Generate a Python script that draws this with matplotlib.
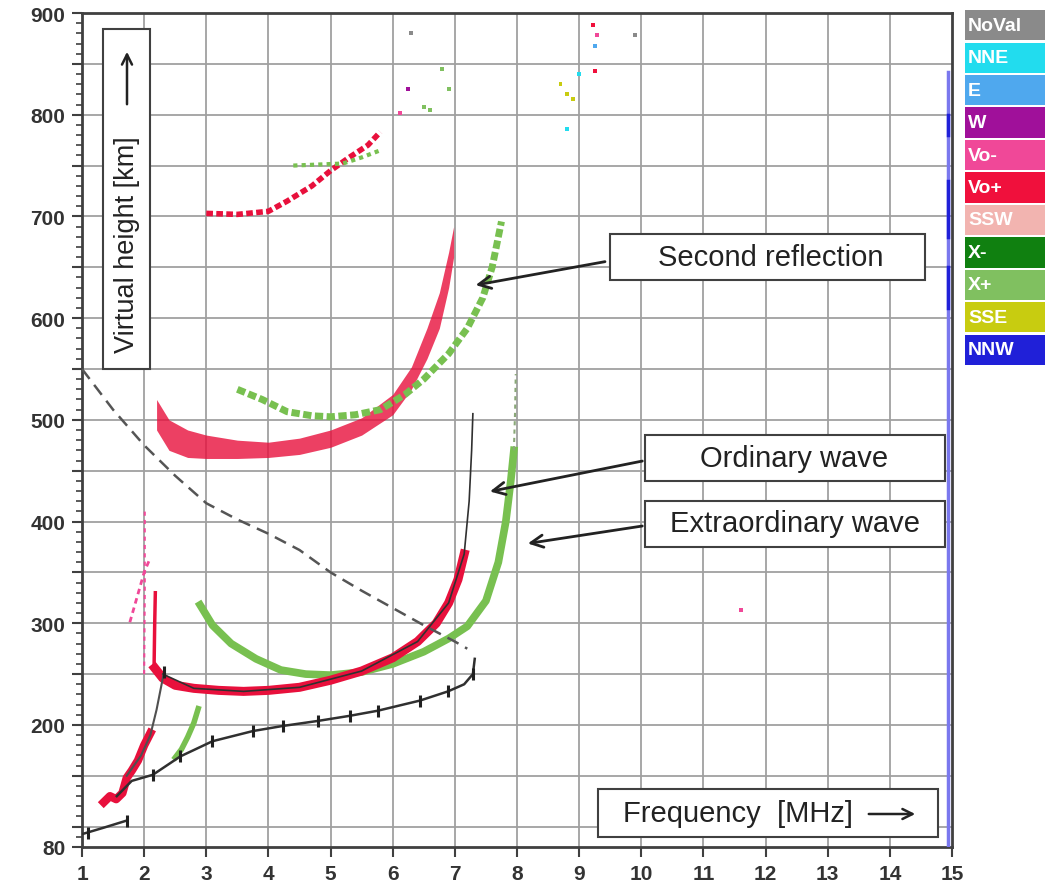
import numpy as np
import matplotlib.pyplot as plt
from matplotlib.patches import Rectangle

plt.rcParams['font.family'] = ['Liberation Sans', 'DejaVu Sans']

# ---- echo traces: frequency [MHz], virtual height [km] ----
# first hop, ordinary (Vo+)
o1_f = [2.17, 2.3, 2.5, 2.8, 3.2, 3.6, 4.0, 4.5, 5.0, 5.5, 6.0, 6.4, 6.7, 6.9, 7.05, 7.15]
o1_h = [256, 246, 239, 236, 234, 233, 234, 237, 244, 253, 266, 282, 300, 320, 343, 368]
# thin black fitted O trace up to foF2
ot_f = [2.3, 2.8, 3.6, 4.5, 5.5, 6.4, 6.9, 7.15, 7.23, 7.27, 7.29]
ot_h = [250, 236, 233, 237, 253, 282, 320, 368, 420, 470, 506]
# first hop, extraordinary (X+)
x1_f = [2.9, 3.1, 3.4, 3.8, 4.2, 4.6, 5.0, 5.5, 6.0, 6.5, 6.9, 7.2, 7.5, 7.7, 7.82, 7.9, 7.95]
x1_h = [318, 298, 280, 265, 254, 250, 249, 252, 260, 272, 285, 297, 322, 360, 400, 440, 470]
x1t_f = [7.95, 7.97, 7.98]
x1t_h = [470, 510, 545]
# spike at 2.17 MHz
sp_f = [2.16, 2.17, 2.18]
sp_h = [258, 300, 330]
# low (E / Es) red echoes
e_f = [1.35, 1.45, 1.55, 1.65, 1.72, 1.8, 1.9, 2.0, 2.1]
e_h = [124, 130, 127, 133, 148, 155, 165, 180, 192]
# Vo- echoes
vm_f = [1.77, 1.85, 1.93, 2.0, 2.09]
vm_h = [301, 318, 335, 350, 363]
vv_f = [2.0, 2.01, 2.01]
vv_h = [250, 330, 410]
# low X echo
xe_f = [2.5, 2.6, 2.7, 2.8, 2.87]
xe_h = [168, 176, 188, 202, 216]
# second hop O (band)
o2_f = [2.2, 2.4, 2.7, 3.0, 3.5, 4.0, 4.5, 5.0, 5.5, 6.0, 6.3, 6.55, 6.75, 6.9, 6.98]
o2_lo = [490, 470, 463, 462, 462, 463, 466, 473, 485, 505, 530, 560, 590, 630, 660]
o2_hi = [520, 500, 490, 485, 480, 478, 482, 490, 502, 525, 552, 590, 625, 665, 690]
# second hop X
x2_f = [3.5, 3.9, 4.3, 4.7, 5.0, 5.4, 5.8, 6.2, 6.5, 6.9, 7.2, 7.45, 7.6, 7.75]
x2_h = [530, 520, 508, 504, 503, 505, 510, 525, 540, 565, 590, 620, 650, 695]
# third hop
o3_f = [3.0, 3.5, 4.0, 4.3, 4.7, 5.0, 5.3, 5.6, 5.8]
o3_h = [703, 702, 705, 715, 730, 745, 758, 770, 783]
x3_f = [4.4, 4.8, 5.2, 5.5, 5.8]
x3_h = [750, 751, 752, 758, 765]
# scattered single echoes
sc_f = [6.12, 6.25, 6.5, 6.6, 6.8, 6.9, 8.7, 8.8, 8.9, 9.0, 8.8, 9.22, 9.25, 9.28, 9.25, 11.6, 6.3, 9.9]
sc_h = [802, 825, 808, 805, 845, 825, 830, 820, 815, 840, 786, 888, 868, 878, 843, 313, 880, 878]
sc_c = ['Vo-', 'W', 'X+', 'X+', 'X+', 'X+', 'SSE', 'SSE', 'SSE', 'NNE', 'NNE', 'Vo+', 'E', 'Vo-', 'Vo+',
        'Vo-', 'NoVal', 'NoVal']
# NNW interference line at top of band
nnw_f = [14.93, 14.93]
nnw_h = [80, 842]
nnwd_h = [[780, 800], [680, 735], [610, 650]]
# real height profile (black) with tick marks
nh1_f = [1.02, 1.35, 1.72]
nh1_h = [93, 99, 106]
nh2_f = [1.56, 1.8, 2.14, 2.58, 3.1, 3.75, 4.23, 4.8, 5.31, 5.76, 6.44, 6.89, 7.15, 7.29, 7.32]
nh2_h = [130, 145, 151, 169, 184, 194, 199, 204, 209, 214, 224, 233, 240, 250, 265]
tk_f = [1.1, 1.72, 2.14, 2.58, 3.1, 3.75, 4.23, 4.8, 5.31, 5.76, 6.44, 6.89, 7.29, 2.32]
tk_h = [94, 106, 151, 169, 184, 194, 199, 204, 209, 214, 224, 233, 250, 252]
g_f = [1.72, 1.95, 2.1, 2.2, 2.32]
g_h = [150, 170, 190, 215, 252]
# dashed model curve
d_f = [1.0, 1.5, 2.0, 2.5, 3.0, 3.5, 4.0, 4.5, 5.0, 5.5, 6.0, 6.5, 7.0, 7.2]
d_h = [550, 510, 475, 445, 418, 402, 388, 372, 350, 332, 315, 298, 282, 275]

legend_names = ['NoVal', 'NNE', 'E', 'W', 'Vo-', 'Vo+', 'SSW', 'X-', 'X+', 'SSE', 'NNW']
legend_cols = ['#8a8a8a', '#22dcee', '#4fa8ee', '#a0109a', '#f04898', '#f0103c',
               '#f2b4b0', '#108010', '#80c060', '#c8cc10', '#2020d8']
col = dict(zip(legend_names, legend_cols))

fig = plt.figure(figsize=(10.51, 8.95), dpi=100)
ax = fig.add_axes([82/1051, 47/895, 870/1051, 834/895])

# grid
for f in range(2, 15):
    ax.axvline(f, color='#a0a0a0', lw=1.3, zorder=0)
for h in range(100, 900, 50):
    ax.axhline(h, color='#a0a0a0', lw=1.3, zorder=0)

red = '#e8103c'
grn = '#78c050'
ax.fill_between(o2_f, o2_lo, o2_hi, color=red, alpha=0.8, lw=0, zorder=2)
ax.plot(x2_f, x2_h, color=grn, lw=5, ls=(0, (1.2, 0.5)), zorder=3)
ax.plot(o3_f, o3_h, color=red, lw=4, ls=(0, (1.2, 0.6)), zorder=2)
ax.plot(x3_f, x3_h, color=grn, lw=3, ls=(0, (1, 1)), zorder=2)
ax.plot(x1_f, x1_h, color=grn, lw=5.5, zorder=3)
ax.plot(x1t_f, x1t_h, color='#8aa878', lw=1.5, ls=(0, (2, 2)), zorder=3)
ax.plot(o1_f, o1_h, color=red, lw=6.5, zorder=4)
ax.plot(sp_f, sp_h, color=red, lw=2.5, zorder=4)
ax.plot(e_f, e_h, color=red, lw=6, zorder=4)
ax.plot(vm_f, vm_h, color=col['Vo-'], lw=2, ls=(0, (2, 1.5)), zorder=3)
ax.plot(vv_f, vv_h, color=col['Vo-'], lw=1.5, ls=(0, (2, 2)), zorder=3)
ax.plot(xe_f, xe_h, color=grn, lw=4, zorder=4)
ax.scatter(sc_f, sc_h, c=[col[c] for c in sc_c], s=8, marker='s', lw=0, zorder=3)

ax.plot(nnw_f, nnw_h, color='#7a78ee', lw=2.5, zorder=3)
for lo, hi in nnwd_h:
    ax.plot(nnw_f, [lo, hi], color='#2020d8', lw=2.5, zorder=3)

ax.plot(d_f, d_h, color='#555555', lw=1.8, dashes=(5, 3), zorder=5)
ax.plot(ot_f, ot_h, color='#303030', lw=1.2, zorder=6)
ax.plot(g_f, g_h, color='#505050', lw=1.5, zorder=6)
ax.plot(nh1_f, nh1_h, color='#303030', lw=1.8, zorder=6)
ax.plot(nh2_f, nh2_h, color='#303030', lw=1.8, zorder=6)
ax.plot(tk_f, tk_h, ls='none', marker='|', ms=9, mew=2.2, color='#202020', zorder=7)

ax.set_xlim(1, 15)
ax.set_ylim(80, 900)
ax.set_xticks(range(1, 16))
yt = [80] + list(range(100, 901, 50))
ax.set_yticks(yt)
ax.set_yticklabels([str(v) if v == 80 or (v % 100 == 0 and v >= 200) else '' for v in yt])
ax.set_yticks(range(80, 901, 10), minor=True)
ax.tick_params(axis='both', which='major', labelsize=15, width=1.5, length=7,
               color='#404040', labelcolor='#333333', pad=5)
ax.tick_params(axis='y', which='minor', width=1.2, length=4, color='#404040')
for lab in ax.get_xticklabels() + ax.get_yticklabels():
    lab.set_fontweight('bold')
for s in ax.spines.values():
    s.set_color('#404040')
    s.set_linewidth(2)


def px(x, y):
    return (x - 82) / 870, (848 - y) / 834


def box(x0, y0, x1, y1):
    a, b = px(x0, y1)
    c, d = px(x1, y0)
    ax.add_patch(Rectangle((a, b), c - a, d - b, transform=ax.transAxes, fc='white',
                           ec='#404040', lw=1.5, zorder=8))


tkw = dict(transform=ax.transAxes, ha='center', va='center', fontsize=21,
           color='#222222', zorder=9)

# annotation boxes
box(103, 30, 150, 370)
ax.text(*px(127, 245), 'Virtual height [km]', rotation=90, **{**tkw, 'fontsize': 19.5})
ax.annotate('', xy=px(127, 50), xytext=px(127, 108), xycoords='axes fraction',
            arrowprops=dict(arrowstyle='->', lw=1.8, color='#222222',
                            mutation_scale=18), zorder=9)

box(610, 235, 925, 281)
ax.text(*px(771, 258), 'Second reflection', **tkw)
box(645, 436, 945, 482)
ax.text(*px(794, 459), 'Ordinary wave', **tkw)
box(645, 502, 945, 548)
ax.text(*px(795, 524), 'Extraordinary wave', **tkw)
box(598, 790, 938, 838)
ax.text(*px(738, 814), 'Frequency  [MHz]', **tkw)
ax.annotate('', xy=px(918, 815), xytext=px(866, 815), xycoords='axes fraction',
            arrowprops=dict(arrowstyle='->', lw=1.8, color='#222222',
                            mutation_scale=18), zorder=9)

# arrows to traces
arr = dict(arrowstyle='->', lw=2, color='#222222', mutation_scale=22)
ax.annotate('', xy=(7.29, 632), xytext=(9.46, 656), arrowprops=arr, zorder=9)
ax.annotate('', xy=(7.52, 429), xytext=(10.06, 460), arrowprops=arr, zorder=9)
ax.annotate('', xy=(8.13, 378), xytext=(10.06, 396), arrowprops=arr, zorder=9)

# colour legend
lg = fig.add_axes([965/1051, (895-367)/895, 80/1051, 357/895])
pos = np.arange(len(legend_names))
lg.barh(pos, 1, height=0.93, color=legend_cols)
for p, n in zip(pos, legend_names):
    lg.text(0.04, p, n, color='white', fontsize=14, fontweight='bold', va='center', ha='left')
lg.set_xlim(0, 1)
lg.set_ylim(len(legend_names) - 0.5, -0.5)
lg.axis('off')

fig.savefig('out.png', dpi=100)
